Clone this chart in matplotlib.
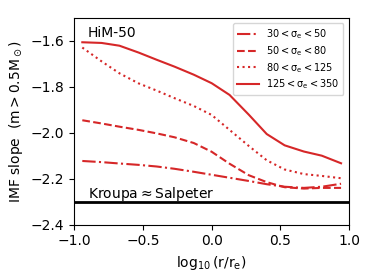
import matplotlib
matplotlib.use("Agg")
import matplotlib.pyplot as plt

# radial bins, log10(r/re)
log_r = [-0.94, -0.80, -0.67, -0.53, -0.40, -0.27, -0.13, 0.0,
         0.13, 0.27, 0.40, 0.53, 0.67, 0.80, 0.94]

# IMF slope profiles per sigma_e bin
slope_30_50 = [-2.123, -2.128, -2.134, -2.140, -2.147, -2.157, -2.170, -2.183,
               -2.196, -2.210, -2.224, -2.235, -2.240, -2.235, -2.222]
slope_50_80 = [-1.946, -1.960, -1.974, -1.988, -2.003, -2.020, -2.045, -2.083,
               -2.135, -2.185, -2.215, -2.237, -2.243, -2.240, -2.240]
slope_80_125 = [-1.630, -1.690, -1.742, -1.786, -1.817, -1.850, -1.884, -1.923,
                -1.988, -2.058, -2.120, -2.160, -2.180, -2.188, -2.198]
slope_125_350 = [-1.607, -1.610, -1.622, -1.652, -1.683, -1.713, -1.748, -1.785,
                 -1.836, -1.922, -2.006, -2.055, -2.082, -2.100, -2.133]

labels = [r"$30 < \sigma_e < 50$", r"$50 < \sigma_e < 80$",
          r"$80 < \sigma_e < 125$", r"$125 < \sigma_e < 350$"]
kroupa_slope = -2.3

plt.rcParams["mathtext.default"] = "regular"

fig = plt.figure(figsize=(3.74, 2.8), dpi=100)
ax = fig.add_axes([0.198, 0.1975, 0.736, 0.7395])

red = "#d62728"
ax.plot(log_r, slope_30_50, color=red, ls="-.", lw=1.5, label=labels[0])
ax.plot(log_r, slope_50_80, color=red, ls="--", lw=1.5, label=labels[1])
ax.plot(log_r, slope_80_125, color=red, ls=":", lw=1.5, label=labels[2])
ax.plot(log_r, slope_125_350, color=red, ls="-", lw=1.5, label=labels[3])

ax.axhline(kroupa_slope, color="k", lw=2)
ax.text(-0.9, -2.285, r"Kroupa$\approx$Salpeter", fontsize=10)
ax.text(-0.9, -1.585, "HiM-50", fontsize=10)

ax.set_xlim(-1.0, 1.0)
ax.set_ylim(-2.4, -1.5)
ax.set_yticks([-2.4, -2.2, -2.0, -1.8, -1.6])
ax.set_xticks([-1.0, -0.5, 0.0, 0.5, 1.0])
ax.set_xlabel(r"$\log_{10}(r/r_e)$", fontsize=10)
ax.set_ylabel(r"IMF slope  $(m > 0.5M_\odot)$", fontsize=10)
ax.tick_params(labelsize=10)
ax.legend(loc="upper right", fontsize=7, labelspacing=0.3,
          handlelength=2.2, borderaxespad=0.6)

fig.savefig("out.png", dpi=100)
